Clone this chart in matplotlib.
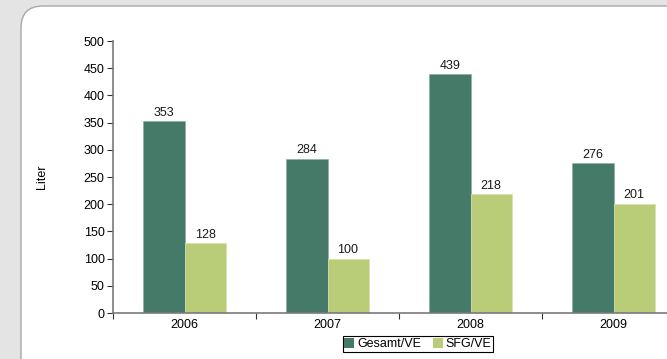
import matplotlib.pyplot as plt
import numpy as np
from matplotlib.patches import FancyBboxPatch, Patch

plt.rcParams['font.family'] = ['Liberation Sans', 'DejaVu Sans']

years = ['2006', '2007', '2008', '2009']
gesamt = [353, 284, 439, 276]
sfg = [128, 100, 218, 201]

dark = '#467a68'
light = '#b9cd78'

fig = plt.figure(figsize=(6.67, 3.59), dpi=100)
fig.patch.set_facecolor('#e4e4e5')

# white rounded panel, runs off the right and bottom edge (inches)
box = FancyBboxPatch((0.21, -1.0), 7.0, 3.59 + 1.0 - 0.06,
                     boxstyle='round,pad=0,rounding_size=0.22',
                     transform=fig.dpi_scale_trans, facecolor='white',
                     edgecolor='#a8a8a8', linewidth=1.0, zorder=-10)
fig.patches.append(box)

ax = fig.add_axes([113 / 667, 1 - 313 / 359, 572 / 667, 272 / 359])
ax.set_facecolor('none')

x = np.arange(len(years))
w = 0.287
b1 = ax.bar(x - w / 2, gesamt, w, color=dark, edgecolor='#8fb0a2', linewidth=0.5, label='Gesamt/VE')
b2 = ax.bar(x + w / 2, sfg, w, color=light, edgecolor='#d6e2b0', linewidth=0.5, label='SFG/VE')

for bars, vals in [(b1, gesamt), (b2, sfg)]:
    for r, v in zip(bars, vals):
        ax.text(r.get_x() + r.get_width() / 2, v + 4, str(v), ha='center', va='bottom',
                fontsize=9, color='#1a1a1a')

ax.set_xlim(-0.5, len(years) - 0.5)
ax.set_ylim(0, 500)
ax.set_yticks(range(0, 501, 50))
ax.set_xticks(x)
ax.set_xticklabels(years)
ax.set_xticks(np.arange(-0.5, len(years), 1), minor=True)
ax.tick_params(axis='x', which='major', length=0, labelsize=9, pad=4)
ax.tick_params(axis='x', which='minor', length=4, width=0.8, color='#333333')
ax.tick_params(axis='y', length=4, width=0.8, color='#333333', labelsize=9, pad=2)

for s in ['top', 'right']:
    ax.spines[s].set_visible(False)
for s in ['left', 'bottom']:
    ax.spines[s].set_color('#7a7a7a')
    ax.spines[s].set_linewidth(1.2)

fig.text(42 / 667, 1 - 177 / 359, 'Liter', rotation=90, ha='center', va='center', fontsize=9)

handles = [Patch(facecolor=dark), Patch(facecolor=light)]
leg = fig.legend(handles, ['Gesamt/VE', 'SFG/VE'], loc='center',
                 bbox_to_anchor=(418 / 667, 1 - 344 / 359), ncol=2, fontsize=9,
                 frameon=True, fancybox=False, edgecolor='black', framealpha=1,
                 handlelength=0.8, handleheight=0.8, handletextpad=0.2,
                 columnspacing=1.0, borderpad=0.15, borderaxespad=0)
leg.get_frame().set_linewidth(0.8)

fig.savefig('out.png', dpi=100, facecolor=fig.get_facecolor())
